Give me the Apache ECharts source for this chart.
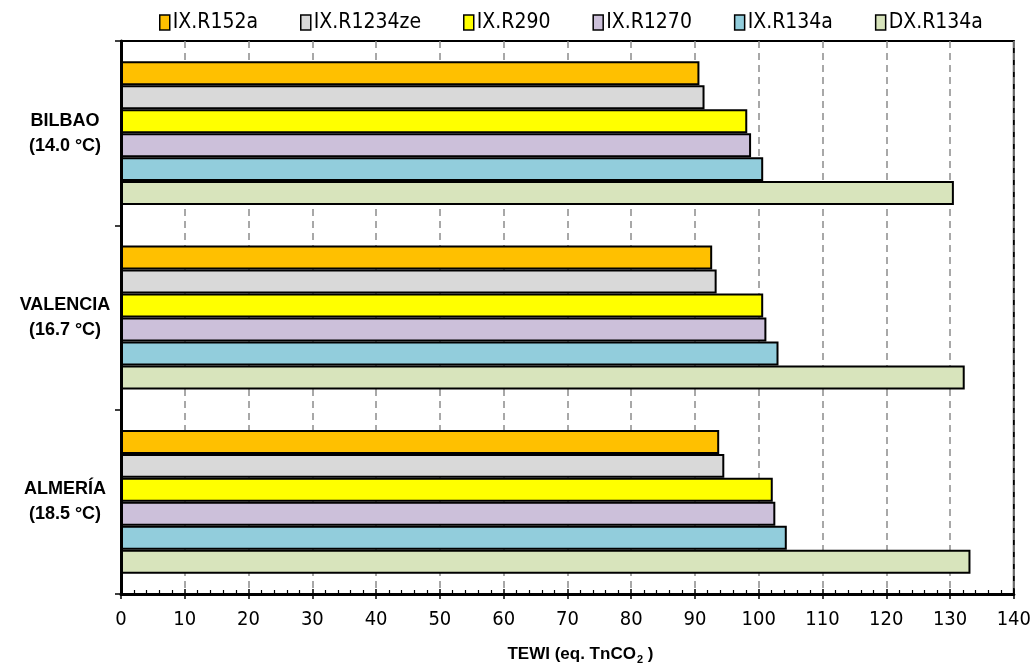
<!DOCTYPE html>
<html><head><meta charset="utf-8">
<script src="https://cdn.jsdelivr.net/npm/echarts@6/dist/echarts.min.js"></script>
<style>html,body{margin:0;padding:0;background:#fff}#c{width:1034px;height:670px}</style>
</head><body><div id="c"></div>
<script>
const categories = ['BILBAO\n(14.0 °C)', 'VALENCIA\n(16.7 °C)', 'ALMERÍA\n(18.5 °C)'];
const seriesNames = ['IX.R152a', 'IX.R1234ze', 'IX.R290', 'IX.R1270', 'IX.R134a', 'DX.R134a'];
const r152a   = [90.7, 92.7, 93.8];
const r1234ze = [91.5, 93.4, 94.6];
const r290    = [98.2, 100.7, 102.2];
const r1270   = [98.8, 101.2, 102.6];
const r134aIX = [100.7, 103.1, 104.4];
const r134aDX = [130.6, 132.3, 133.2];
const xTicks = { min: 0, max: 140, interval: 10 };

const values = [r152a, r1234ze, r290, r1270, r134aIX, r134aDX];
const colors = ['#FFC000', '#D9D9D9', '#FFFF00', '#CCC0DA', '#92CDDC', '#D8E4BC'];
const numFont = "'DejaVu Sans Condensed', Roboto, sans-serif";

const chart = echarts.init(document.getElementById('c'));
chart.setOption({
  animation: false,
  backgroundColor: '#fff',
  legend: {
    top: 7, left: 154,
    itemWidth: 10, itemHeight: 15, itemGap: 42,
    icon: 'rect',
    itemStyle: { borderColor: '#000', borderWidth: 1.5 },
    textStyle: { fontFamily: numFont, fontSize: 21, color: '#000', padding: [0,0,0,-2] },
    data: seriesNames
  },
  grid: { left: 121, right: 18, top: 41, bottom: 75, show: true, borderColor: '#000', borderWidth: 2, containLabel: false },
  xAxis: [{
    type: 'value', min: xTicks.min, max: xTicks.max, interval: xTicks.interval,
    axisLine: { show: true, lineStyle: { color: '#000', width: 3 } },
    axisTick: { show: true, inside: false, length: 5, lineStyle: { color: '#000', width: 1.5 } },
    axisLabel: { fontFamily: numFont, fontSize: 20, color: '#000', margin: 16 },
    splitLine: { show: true, lineStyle: { color: '#8c8c8c', width: 1.5, type: [7, 5] } },
    name: '{a|TEWI (eq. TnCO}{s|2}{a| )}',
    nameLocation: 'middle', nameGap: 50,
    nameTextStyle: {
      padding: [0, 0, 0, 26],
      rich: {
        a: { fontFamily: 'Liberation Sans', fontWeight: 'bold', fontSize: 17, color: '#000' },
        s: { fontFamily: 'Liberation Sans', fontWeight: 'bold', fontSize: 11, color: '#000', padding: [10, 0, 0, 1] }
      }
    }
  }, {
    type: 'value', min: xTicks.min, max: xTicks.max, interval: xTicks.interval, position: 'bottom',
    axisLine: { show: false },
    axisTick: { show: true, inside: true, length: 5, lineStyle: { color: '#000', width: 1.5 } },
    minorTick: { show: true, splitNumber: 5, length: 4, lineStyle: { color: '#000', width: 1.2 } },
    axisLabel: { show: false }, splitLine: { show: false }
  }],
  yAxis: {
    type: 'category', inverse: true, data: categories,
    axisLine: { show: true, lineStyle: { color: '#000', width: 3 } },
    axisTick: { show: true, alignWithLabel: false, length: 6, lineStyle: { color: '#000', width: 1.5 } },
    axisLabel: { fontFamily: 'Liberation Sans', fontWeight: 'bold', fontSize: 18, lineHeight: 25, color: '#000', align: 'center', margin: 56, padding: [14, 0, 0, 0] }
  },
  series: seriesNames.map((n, i) => ({
    name: n, type: 'bar', data: values[i], xAxisIndex: 0,
    barGap: '0%', barCategoryGap: '22%',
    itemStyle: { color: colors[i], borderColor: '#000', borderWidth: 2 }
  }))
});
</script></body></html>
